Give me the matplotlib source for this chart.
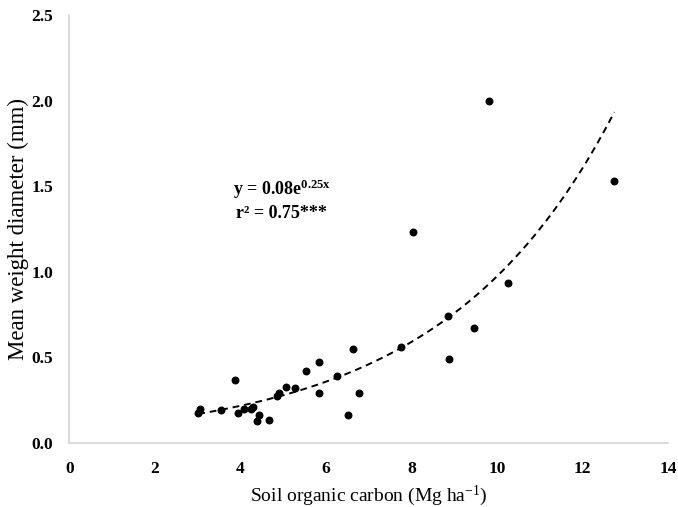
import numpy as np
import matplotlib
matplotlib.use("Agg")
import matplotlib.pyplot as plt

# soil organic carbon (Mg ha-1) vs mean weight diameter (mm)
soc = [3.06, 3.01, 3.55, 3.88, 3.93, 4.09, 4.28, 4.25, 4.42, 4.39, 4.67,
       4.86, 4.91, 5.07, 5.28, 5.54, 5.84, 5.84, 6.26, 6.64, 6.52, 6.78,
       7.76, 8.86, 8.88, 9.46, 8.04, 9.81, 10.26, 12.74]
mwd = [0.20, 0.175, 0.19, 0.37, 0.175, 0.20, 0.21, 0.20, 0.165, 0.13, 0.135,
       0.275, 0.29, 0.33, 0.32, 0.42, 0.475, 0.29, 0.39, 0.55, 0.165, 0.29,
       0.56, 0.745, 0.49, 0.67, 1.235, 2.0, 0.935, 1.53]

fit_a = 0.08
fit_b = 0.25
x_ticks = [0, 2, 4, 6, 8, 10, 12, 14]
y_ticks = [0.0, 0.5, 1.0, 1.5, 2.0, 2.5]

plt.rcParams['font.family'] = ['Liberation Serif', 'DejaVu Serif']
plt.rcParams['mathtext.fontset'] = 'custom'
plt.rcParams['mathtext.rm'] = 'Liberation Serif'
plt.rcParams['mathtext.it'] = 'Liberation Serif'
plt.rcParams['mathtext.bf'] = 'Liberation Serif:bold'

fig = plt.figure(figsize=(6.78, 5.07), dpi=100)
ax = fig.add_axes([0.1025, 0.1262, 0.883, 0.844])

ax.scatter(soc, mwd, s=22, color="black", zorder=3)

xf = np.linspace(min(soc), max(soc), 200)
ax.plot(xf, fit_a * np.exp(fit_b * xf), color="black", lw=1.4,
        linestyle=(0, (3.5, 2.5)), zorder=2)

ax.text(3.83, 1.45, r"y = 0.08e$^{\mathbf{0.25x}}$", fontsize=13, fontweight="bold")
ax.text(3.90, 1.315, "r² = 0.75***", fontsize=13, fontweight="bold")

ax.set_xlim(0, 14)
ax.set_ylim(0, 2.5)
ax.set_xticks(x_ticks)
ax.set_yticks(y_ticks)
ax.set_yticklabels(["%.1f" % v for v in y_ticks])
ax.tick_params(length=0, labelsize=12.5)
ax.tick_params(axis="x", pad=13)
ax.tick_params(axis="y", pad=12)
for lab in ax.get_xticklabels() + ax.get_yticklabels():
    lab.set_fontweight("bold")

for s in ["top", "right"]:
    ax.spines[s].set_visible(False)
for s in ["left", "bottom"]:
    ax.spines[s].set_color("#d4d4d4")
    ax.spines[s].set_linewidth(1.2)

ax.set_xlabel("Soil organic carbon (Mg ha$^{\\mathrm{-1}}$)", fontsize=14)
ax.set_ylabel("Mean weight diameter (mm)", fontsize=16.5)
ax.xaxis.set_label_coords(0.5, -0.095)
ax.yaxis.set_label_coords(-0.068, 0.5)

fig.savefig("out.png", dpi=100)
